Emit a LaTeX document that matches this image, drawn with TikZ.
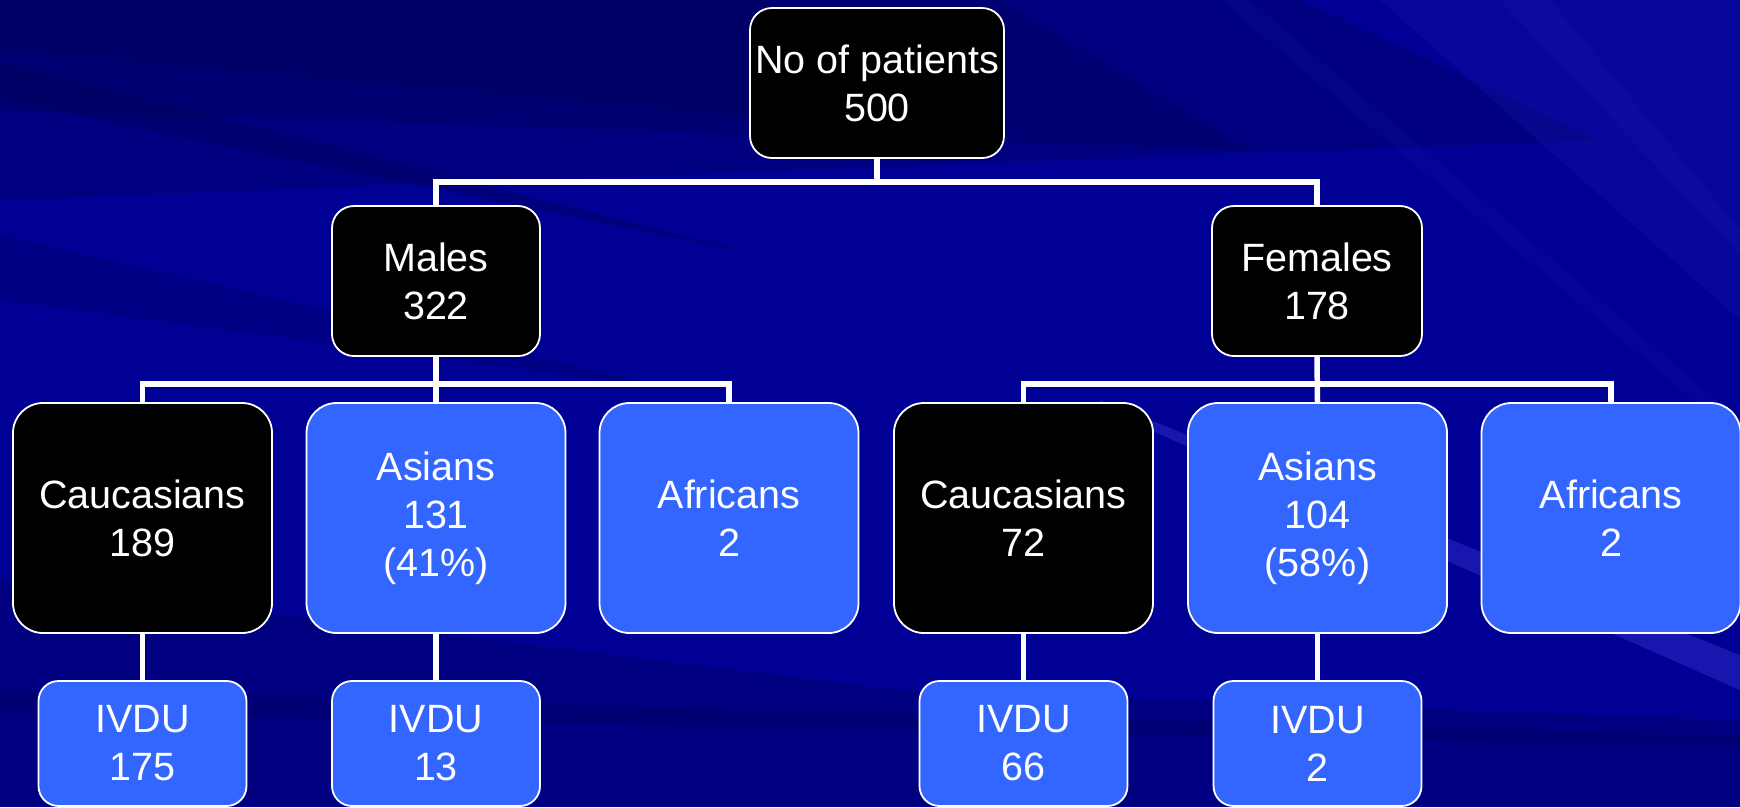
\documentclass[tikz,border=0pt]{standalone}
\usepackage{fontspec}
\setmainfont{Liberation Sans}
\definecolor{bgbase}{HTML}{000094}
\definecolor{bgdark}{HTML}{00004A}
\definecolor{bglight}{HTML}{2A2AC8}
\definecolor{boxblue}{HTML}{3366FF}
\tikzset{
  card/.style={draw=white, line width=1.8pt, text=white, inner sep=0pt,
    align=center, font=\fontsize{39.5}{48}\selectfont},
  headbox/.style={card, fill=black, rounded corners=22pt,
    minimum height=150pt},
  groupbox/.style={card, rounded corners=30pt, minimum width=259pt,
    minimum height=230pt},
  ivdubox/.style={card, fill=boxblue, rounded corners=20pt,
    minimum width=208pt, minimum height=125pt},
  link/.style={draw=white, line width=5.5pt},
  streak/.style={fill=bgdark, opacity=#1},
  glint/.style={fill=bglight, opacity=#1},
}
\begin{document}
\begin{tikzpicture}[x=1pt, y=-1pt]
\useasboundingbox (0,0) rectangle (1740,807);

% slide background: deep blue with swept streaks
\fill[bgbase] (0,0) rectangle (1740,807);
\begin{scope}
  \clip (0,0) rectangle (1740,807);
  % darkening towards the upper left, built from layered wedges
  \fill[streak=.25] (0,0) -- (1300,0) -- (1600,140) -- (0,200) -- cycle;
  \fill[streak=.25] (0,0) -- (1000,0) -- (1250,150) -- (0,110) -- cycle;
  \fill[streak=.25] (0,0) -- (760,0) -- (1000,140) -- (0,50) -- cycle;
  % thin dark sweeps
  \fill[streak=.3] (0,62) -- (760,255) -- (0,100) -- cycle;
  \fill[streak=.2] (0,235) -- (680,390) -- (0,300) -- cycle;
  % darker lower band
  \fill[streak=.25] (0,580) -- (900,690) -- (1740,720) -- (1740,807) -- (0,807) -- cycle;
  \fill[streak=.25] (0,690) -- (1740,736) -- (1740,746) -- (0,712) -- cycle;
  % lighter glints on the right
  \fill[glint=.18] (1380,0) -- (1740,0) -- (1740,320) -- cycle;
  \fill[glint=.12] (1500,0) -- (1550,0) -- (1740,230) -- (1740,255) -- cycle;
  \fill[glint=.1] (1220,0) -- (1250,0) -- (1740,420) -- (1740,440) -- cycle;
  \fill[glint=.55] (1100,400) -- (1740,655) -- (1740,690) -- (1100,408) -- cycle;
\end{scope}

% top level
\node[headbox, minimum width=254pt] (root) at (877,83) {No of patients\\500};
\node[headbox, minimum width=208pt] (males) at (436,281) {Males\\322};
\node[headbox, minimum width=210pt] (females) at (1317,281) {Females\\178};

% ethnic groups
\node[groupbox, fill=black]    (cm)  at (142.5,518) {Caucasians\\189};
\node[groupbox, fill=boxblue]  (am)  at (436,518)   {Asians\\131\\(41\%)};
\node[groupbox, fill=boxblue]  (afm) at (729,518)   {Africans\\2};
\node[groupbox, fill=black]    (cf)  at (1023.5,518) {Caucasians\\72};
\node[groupbox, fill=boxblue]  (af)  at (1317.5,518) {Asians\\104\\(58\%)};
\node[groupbox, fill=boxblue]  (aff) at (1611,518)  {Africans\\2};

% drug users
\node[ivdubox] (ivcm) at (142.5,743.5)  {IVDU\\175};
\node[ivdubox] (ivam) at (436,743.5)    {IVDU\\13};
\node[ivdubox] (ivcf) at (1023.5,743.5) {IVDU\\66};
\node[ivdubox] (ivaf) at (1317.5,743.5) {IVDU\\2};

% connectors
\coordinate (j0) at (877,182);
\coordinate (jm) at (436,384);
\coordinate (jf) at (1317,384);
\draw[link] (root.south) -- (j0);
\draw[link] (males.north) |- (j0) -| (females.north);
\draw[link] (males.south) -- (am.north);
\draw[link] (cm.north) |- (jm) -| (afm.north);
\draw[link] (females.south) -- (af.north);
\draw[link] (cf.north) |- (jf) -| (aff.north);
\draw[link] (cm.south) -- (ivcm.north);
\draw[link] (am.south) -- (ivam.north);
\draw[link] (cf.south) -- (ivcf.north);
\draw[link] (af.south) -- (ivaf.north);
\end{tikzpicture}
\end{document}
